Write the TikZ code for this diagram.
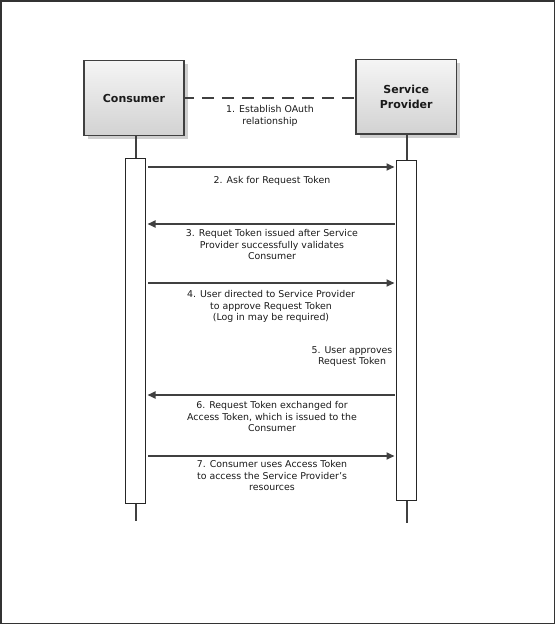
\documentclass[tikz,border=0pt]{standalone}
\usepackage{fontspec}
\setmainfont{DejaVu Sans}
\usetikzlibrary{arrows.meta,calc}
\definecolor{linec}{HTML}{404040}
\definecolor{boxtop}{HTML}{F5F5F5}
\definecolor{boxbot}{HTML}{D2D2D2}
\definecolor{shadowc}{HTML}{CFCFCF}
\definecolor{textc}{HTML}{1A1A1A}
\begin{document}
\begin{tikzpicture}[x=1pt,y=-1pt,
  actor/.style={draw=linec, line width=1.5pt, top color=boxtop, bottom color=boxbot,
    font=\bfseries\fontsize{11}{14.4}\selectfont, text=textc, align=center, inner sep=0pt},
  act/.style={draw=black!85, line width=1pt, fill=white, minimum width=20pt, inner sep=0pt},
  life/.style={draw=linec, line width=2pt},
  msg/.style={draw=linec, line width=1.8pt, -{Triangle[length=8pt,width=7pt]}},
  lbl/.style={font=\fontsize{9.4}{11.5}\selectfont, align=center, text=textc, inner sep=0pt}]
\useasboundingbox (0,0) rectangle (555,624);
\draw[line width=1.5pt, black!80] (0.75,0.75) rectangle (554.25,623.25);

% shadows
\fill[shadowc] (87.5,64) rectangle (187.5,139);
\fill[shadowc] (359.5,63) rectangle (460,137.5);

% actors
\node[actor, minimum width=100pt, minimum height=75pt] (cons) at (134,98) {Consumer};
\node[actor, minimum width=100.5pt, minimum height=74.5pt] (sp) at (406.25,96.75) {Service\\Provider};

% lifelines
\coordinate (lendL) at (135.5,521);
\coordinate (lendR) at (406.5,523);
\draw[life] (cons.south -| lendL) -- (lendL);
\draw[life] (sp.south -| lendR) -- (lendR);

% activations
\node[act, minimum height=345pt] (actL) at (135.5,330.8) {};
\node[act, minimum height=340.3pt] (actR) at (406.5,330.2) {};

% relationship
\draw[linec, line width=1.5pt, dash pattern=on 12pt off 8pt, dash phase=3pt] (cons.east) -- (cons.east -| sp.west);
\node[lbl] (l1) at (270,116) {1. Establish OAuth\\relationship};

% messages
\coordinate (m2) at (0,167);
\coordinate (m3) at (0,224);
\coordinate (m4) at (0,283);
\coordinate (m6) at (0,395);
\coordinate (m7) at (0,456);
\draw[msg, shorten <=2pt, shorten >=1.5pt] (actL.east |- m2) -- (actR.west |- m2);
\draw[msg, shorten <=1pt, shorten >=1.5pt] (actR.west |- m3) -- (actL.east |- m3);
\draw[msg, shorten <=2pt, shorten >=1.5pt] (actL.east |- m4) -- (actR.west |- m4);
\draw[msg, shorten <=1pt, shorten >=1.5pt] (actR.west |- m6) -- (actL.east |- m6);
\draw[msg, shorten <=2pt, shorten >=1.5pt] (actL.east |- m7) -- (actR.west |- m7);

\node[lbl] (l2) at (272,181) {2. Ask for Request Token};
\node[lbl] (l3) at (272,244.7) {3. Requet Token issued after Service\\Provider successfully validates\\Consumer};
\node[lbl] (l4) at (271,306.5) {4. User directed to Service Provider\\to approve Request Token\\(Log in may be required)};
\node[lbl] (l5) at (352,356.7) {5. User approves\\Request Token};
\node[lbl] (l6) at (272,416.5) {6. Request Token exchanged for\\Access Token, which is issued to the\\Consumer};
\node[lbl] (l7) at (272,475.8) {7. Consumer uses Access Token\\to access the Service Provider's\\resources};
\end{tikzpicture}
\end{document}
